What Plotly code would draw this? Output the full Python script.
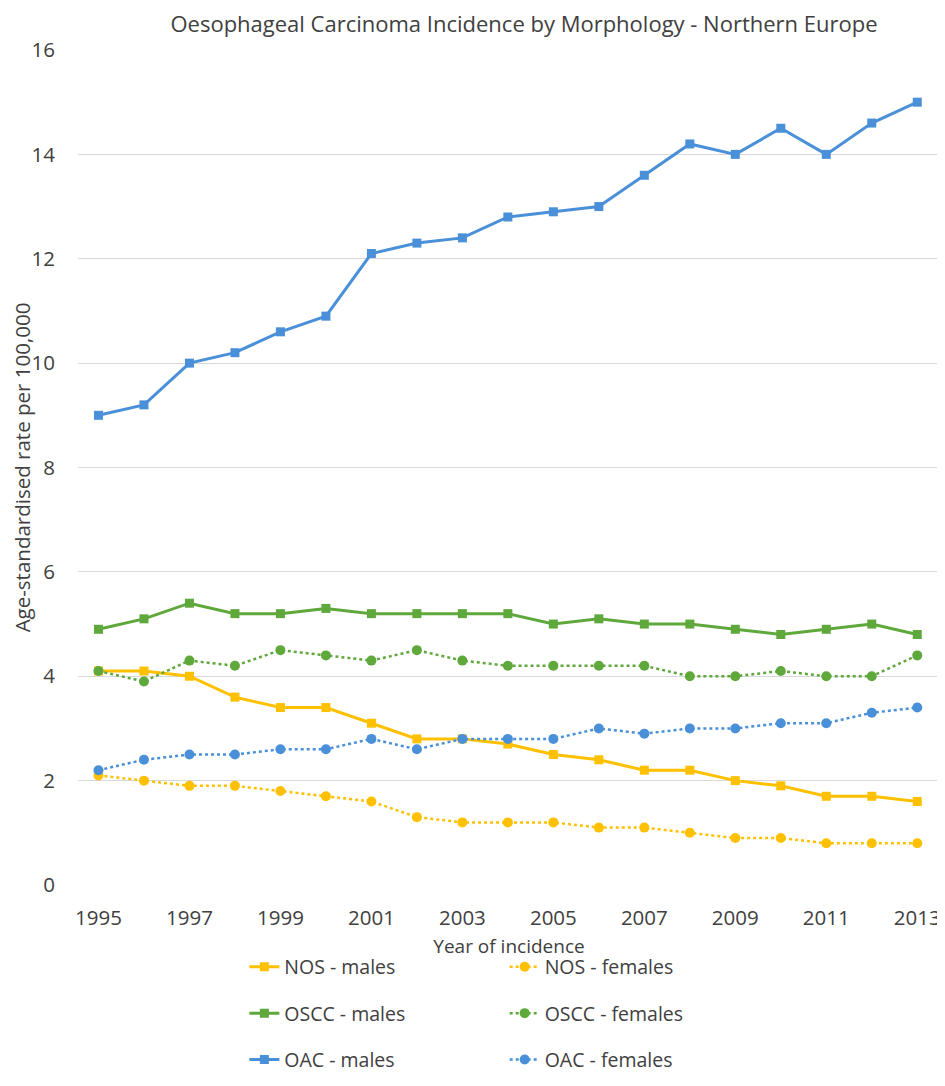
import plotly.graph_objects as go

years = list(range(1995, 2014))

nos_males = [4.1, 4.1, 4.0, 3.6, 3.4, 3.4, 3.1, 2.8, 2.8, 2.7, 2.5, 2.4, 2.2, 2.2, 2.0, 1.9, 1.7, 1.7, 1.6]
nos_females = [2.1, 2.0, 1.9, 1.9, 1.8, 1.7, 1.6, 1.3, 1.2, 1.2, 1.2, 1.1, 1.1, 1.0, 0.9, 0.9, 0.8, 0.8, 0.8]
oscc_males = [4.9, 5.1, 5.4, 5.2, 5.2, 5.3, 5.2, 5.2, 5.2, 5.2, 5.0, 5.1, 5.0, 5.0, 4.9, 4.8, 4.9, 5.0, 4.8]
oscc_females = [4.1, 3.9, 4.3, 4.2, 4.5, 4.4, 4.3, 4.5, 4.3, 4.2, 4.2, 4.2, 4.2, 4.0, 4.0, 4.1, 4.0, 4.0, 4.4]
oac_males = [9.0, 9.2, 10.0, 10.2, 10.6, 10.9, 12.1, 12.3, 12.4, 12.8, 12.9, 13.0, 13.6, 14.2, 14.0, 14.5, 14.0, 14.6, 15.0]
oac_females = [2.2, 2.4, 2.5, 2.5, 2.6, 2.6, 2.8, 2.6, 2.8, 2.8, 2.8, 3.0, 2.9, 3.0, 3.0, 3.1, 3.1, 3.3, 3.4]

YELLOW = '#FFC000'
GREEN = '#5FA83B'
BLUE = '#4A90D9'

series = [
    ('NOS - males', nos_males, YELLOW, 'solid', 'square', 'legend'),
    ('OSCC - males', oscc_males, GREEN, 'solid', 'square', 'legend'),
    ('OAC - males', oac_males, BLUE, 'solid', 'square', 'legend'),
    ('NOS - females', nos_females, YELLOW, 'dot', 'circle', 'legend2'),
    ('OSCC - females', oscc_females, GREEN, 'dot', 'circle', 'legend2'),
    ('OAC - females', oac_females, BLUE, 'dot', 'circle', 'legend2'),
]

fig = go.Figure()
for name, vals, color, dash, symbol, leg in series:
    solid = dash == 'solid'
    fig.add_trace(go.Scatter(
        x=years, y=vals, name=name, mode='lines+markers',
        line=dict(color=color, width=3 if solid else 2.5, dash=dash),
        marker=dict(color=color, symbol=symbol, size=9 if solid else 10),
        legend=leg, legendgroup=name,
    ))

font = 'Open Sans, Segoe UI, sans-serif'
grey = '#404040'

# page body adds an 8px margin, so the figure is sized to fit inside it
W, H = 937, 1078

fig.update_layout(
    width=W, height=H,
    margin=dict(l=70, r=5, t=42, b=201, autoexpand=False),
    paper_bgcolor='white', plot_bgcolor='white',
    font=dict(family=font, size=20.5, color=grey),
    title=dict(text='Oesophageal Carcinoma Incidence by Morphology - Northern Europe',
               x=516 / W, xanchor='center', y=1, yanchor='top',
               pad=dict(t=9),
               font=dict(size=22, color=grey)),
    xaxis=dict(range=[1994.55, 2013.5], tickmode='array',
               tickvals=years[::2], showgrid=False, zeroline=False,
               ticks='', ticklabelstandoff=18,
               title=dict(text='Year of incidence', standoff=10, font=dict(size=19))),
    yaxis=dict(range=[0, 16], dtick=2, showgrid=True, gridcolor='#D9D9D9',
               gridwidth=1.2, zeroline=False, ticks='', ticklabelstandoff=22,
               title=dict(text='Age-standardised rate per 100,000', standoff=3,
                          font=dict(size=20.5))),
    legend=dict(x=0.193, y=-0.075, xanchor='left', yanchor='top',
                tracegroupgap=18, font=dict(size=19.5), bgcolor='rgba(0,0,0,0)'),
    legend2=dict(x=0.495, y=-0.075, xanchor='left', yanchor='top',
                 tracegroupgap=18, font=dict(size=19.5), bgcolor='rgba(0,0,0,0)'),
)

fig.write_html("out.html")
